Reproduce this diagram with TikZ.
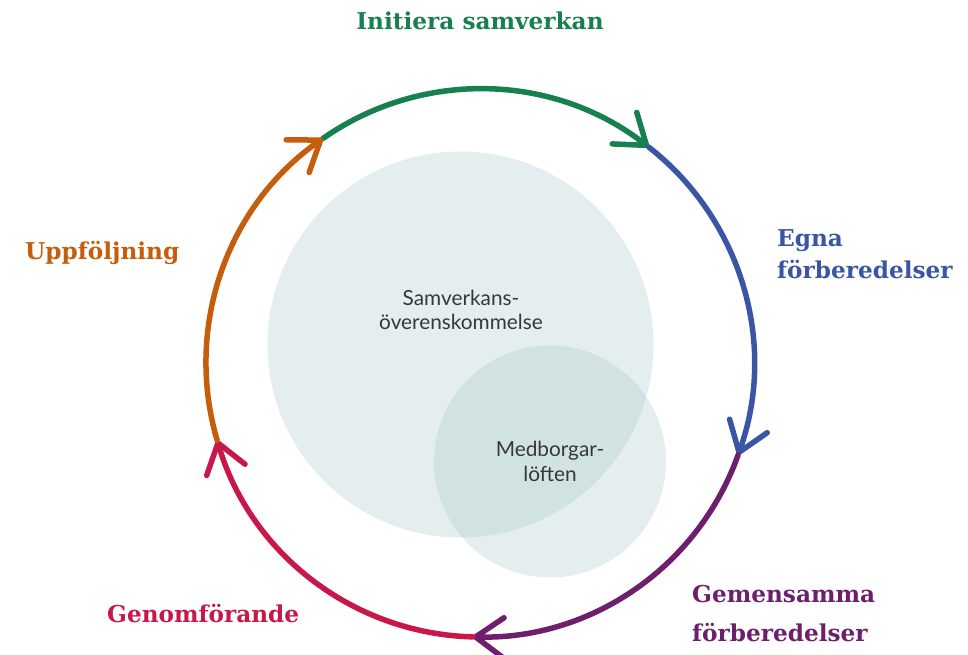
\documentclass[tikz,border=0pt]{standalone}
\usepackage{fontspec}
\setmainfont{DejaVu Serif}
\newfontfamily\innerfont{Lato}
\usetikzlibrary{arrows.meta}
\definecolor{cgreen}{RGB}{23,128,79}
\definecolor{cblue}{RGB}{58,85,164}
\definecolor{cpurple}{RGB}{109,31,110}
\definecolor{cred}{RGB}{200,24,74}
\definecolor{corange}{RGB}{198,93,12}
\definecolor{blobc}{RGB}{151,190,190}
\definecolor{innertext}{RGB}{55,55,60}
\begin{document}
\begin{tikzpicture}[x=1pt,y=1pt,
  ring/.style={line width=5.5pt, line cap=round, -{Straight Barb[length=28pt,width=40pt,line width=0pt 1,round]}},
  lbl/.style={font=\bfseries\fontsize{23.2}{27}\selectfont, inner sep=0pt, anchor=base west},
  innerlbl/.style={font=\innerfont\fontsize{20.8}{24}\selectfont, text=innertext, inner sep=0pt, anchor=base},
  blob/.style={circle, inner sep=0pt, fill=blobc, fill opacity=0.26}]
\useasboundingbox (0,0) rectangle (968,655);
\coordinate (C) at (480,292);
% inner circles
\node[blob, minimum size=386pt] (big) at (460.5,310.5) {};
\node[blob, minimum size=232pt] (small) at (550,193.5) {};
% inner texts
\node[innerlbl] (samv1) at (461,349) {Samverkans-};
\node[innerlbl] (samv2) at (461,325) {överenskommelse};
\node[innerlbl] (med1) at (550,198) {Medborgar-};
\node[innerlbl] (med2) at (550,173) {löften};
% ring arcs
\draw[ring, cgreen] ([shift={(125:274pt)}]C) arc[start angle=125, end angle=52, radius=274pt];
\draw[ring, cblue] ([shift={(52:274pt)}]C) arc[start angle=52, end angle=-19.6, radius=274pt];
\draw[ring, cpurple] ([shift={(-19.6:274pt)}]C) arc[start angle=-19.6, end angle=-91.5, radius=274pt];
\draw[ring, cred] ([shift={(268.5:274pt)}]C) arc[start angle=268.5, end angle=196.4, radius=274pt];
\draw[ring, corange] ([shift={(196.4:274pt)}]C) arc[start angle=196.4, end angle=125, radius=274pt];
% labels
\node[lbl, text=cgreen, anchor=base] (init) at (480,625) {Initiera samverkan};
\node[lbl, text=cblue] (egna1) at (777,408) {Egna};
\node[lbl, text=cblue] (egna2) at (777,376) {förberedelser};
\node[lbl, text=cpurple] (gem1) at (692,52) {Gemensamma};
\node[lbl, text=cpurple] (gem2) at (692,13) {förberedelser};
\node[lbl, text=cred] (genom) at (107,32) {Genomförande};
\node[lbl, text=corange] (uppf) at (25,395) {Uppföljning};
\end{tikzpicture}
\end{document}
